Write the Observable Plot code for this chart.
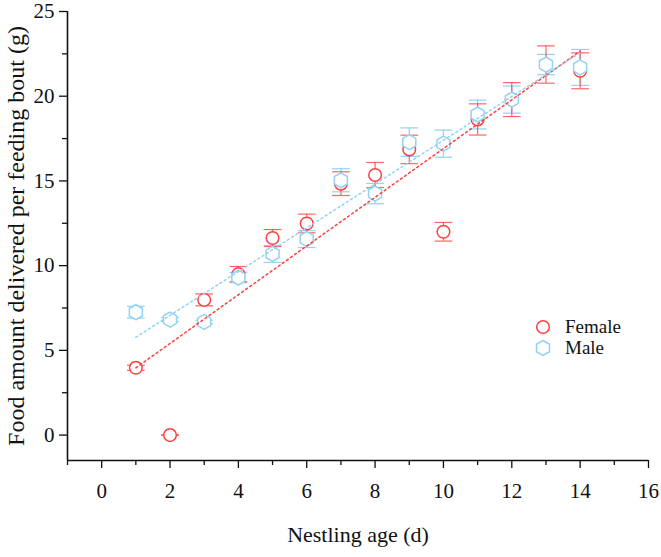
<!DOCTYPE html>
<html>
<head>
<meta charset="utf-8">
<script src="https://cdn.jsdelivr.net/npm/d3@7"></script>
<script src="https://cdn.jsdelivr.net/npm/@observablehq/plot@0.6"></script>
<style>
  html, body { margin: 0; padding: 0; background: #fff; }
  #wrap { position: relative; width: 661px; height: 557px; }
  #wrap svg text { font-family: "Liberation Serif", "Times New Roman", serif !important; }
  #legend { position: absolute; left: 534px; top: 316px; font-family: "Liberation Serif", serif; font-size: 19px; color: #111; }
  #legend .row { display: flex; align-items: center; height: 21px; }
  #legend svg { width: 18px; height: 18px; margin-right: 13px; }
</style>
</head>
<body>
<div id="wrap"><div id="legend"></div></div>
<script>
// Data
const days = [1, 2, 3, 4, 5, 6, 7, 8, 9, 10, 11, 12, 13, 14];
const femaleMean = [3.97, 0, 7.98, 9.5, 11.63, 12.49, 14.84, 15.35, 16.86, 12.0, 18.63, 19.8, 21.87, 21.5];
const femaleErr  = [0.15, 0, 0.35, 0.45, 0.5, 0.55, 0.7, 0.74, 0.84, 0.55, 0.92, 1.0, 1.1, 1.06];
const maleMean   = [7.25, 6.82, 6.68, 9.3, 10.69, 11.57, 15.04, 14.25, 17.29, 17.2, 18.92, 19.8, 21.87, 21.7];
const maleErr    = [0.35, 0.12, 0.1, 0.3, 0.5, 0.5, 0.68, 0.6, 0.84, 0.8, 0.85, 0.8, 0.6, 1.06];

const xMajor = [0, 2, 4, 6, 8, 10, 12, 14, 16];
const xMinor = [-1, 1, 3, 5, 7, 9, 11, 13, 15];
const yMajor = [0, 5, 10, 15, 20, 25];
const yMinor = [2.5, 7.5, 12.5, 17.5, 22.5];

const seriesNames = ["Female", "Male"];
const femaleColor = "#ff3f3f";
const maleColor = "#92d2f4";

const female = days.map((d, i) => ({day: d, mean: femaleMean[i], lo: femaleMean[i] - femaleErr[i], hi: femaleMean[i] + femaleErr[i]}));
const male = days.map((d, i) => ({day: d, mean: maleMean[i], lo: maleMean[i] - maleErr[i], hi: maleMean[i] + maleErr[i]}));

const cap = {
  draw(context, size) {
    const w = Math.sqrt(size);
    context.moveTo(-w, 0);
    context.lineTo(w, 0);
  }
};

const font = "Liberation Serif";

const chart = Plot.plot({
  width: 661,
  height: 557,
  marginLeft: 67,
  marginRight: 13,
  marginTop: 11,
  marginBottom: 97,
  x: {domain: [-1, 16]},
  y: {domain: [-1.5, 25]},
  style: {fontFamily: font, background: "white", color: "#111", overflow: "visible"},
  marks: [
    Plot.axisY({ticks: yMajor, tickSize: 8, tickPadding: 5, fontSize: 21, fontFamily: font, label: null, strokeWidth: 1.3}),
    Plot.axisY({ticks: yMinor, tickSize: 5, tickFormat: () => "", label: null, strokeWidth: 1.3}),
    Plot.axisX({ticks: xMajor, tickSize: 8, tickPadding: 15, fontSize: 21, fontFamily: font, label: null, strokeWidth: 1.3}),
    Plot.axisX({ticks: xMinor, tickSize: 5, tickFormat: () => "", label: null, strokeWidth: 1.3}),
    Plot.ruleX([-1], {stroke: "#111", strokeWidth: 1.6}),
    Plot.ruleY([-1.5], {stroke: "#111", strokeWidth: 1.6}),
    // error bars
    Plot.ruleX(male, {x: "day", y1: "lo", y2: "hi", stroke: maleColor, strokeWidth: 1.2}),
    Plot.dot(male, {x: "day", y: "lo", symbol: cap, r: 5, stroke: maleColor, strokeWidth: 1.2}),
    Plot.dot(male, {x: "day", y: "hi", symbol: cap, r: 5, stroke: maleColor, strokeWidth: 1.2}),
    Plot.ruleX(female, {x: "day", y1: "lo", y2: "hi", stroke: femaleColor, strokeWidth: 1.2, strokeOpacity: 0.8}),
    Plot.dot(female, {x: "day", y: "lo", symbol: cap, r: 5, stroke: femaleColor, strokeWidth: 1.2, strokeOpacity: 0.8}),
    Plot.dot(female, {x: "day", y: "hi", symbol: cap, r: 5, stroke: femaleColor, strokeWidth: 1.2, strokeOpacity: 0.8}),
    // points
    Plot.dot(female, {x: "day", y: "mean", symbol: "circle", r: 6.3, fill: "white", stroke: femaleColor, strokeWidth: 1.5}),
    Plot.dot(male, {x: "day", y: "mean", symbol: "hexagon", r: 6.5, fill: "white", stroke: maleColor, strokeWidth: 1.5}),
    // linear fits
    Plot.linearRegressionY(female, {x: "day", y: "mean", ci: 0, stroke: femaleColor, strokeWidth: 1.5, strokeDasharray: "2,3"}),
    Plot.linearRegressionY(male, {x: "day", y: "mean", ci: 0, stroke: maleColor, strokeWidth: 1.5, strokeDasharray: "2,3"}),
    // axis titles
    Plot.text(["Food amount delivered per feeding bout (g)"], {frameAnchor: "left", textAnchor: "middle", rotate: -90, dx: -51, fontSize: 24, fontFamily: font, fill: "#111"}),
    Plot.text(["Nestling age (d)"], {frameAnchor: "bottom", dy: 81, fontSize: 22, fontFamily: font, fill: "#111"})
  ]
});

document.getElementById("wrap").prepend(chart);

// legend
const legend = document.getElementById("legend");
const hr = 6.5, hy = hr * 2 / Math.sqrt(3);
const hexPath = `M0,${-hy}L${hr},${-hy / 2}L${hr},${hy / 2}L0,${hy}L${-hr},${hy / 2}L${-hr},${-hy / 2}Z`;
const symPaths = [
  `<circle cx="9" cy="9" r="6.3" fill="white" stroke="${femaleColor}" stroke-width="1.5"/>`,
  `<path d="${hexPath}" transform="translate(9,9)" fill="white" stroke="${maleColor}" stroke-width="1.5"/>`
];
seriesNames.forEach((name, i) => {
  const row = document.createElement("div");
  row.className = "row";
  row.innerHTML = `<svg viewBox="0 0 18 18">${symPaths[i]}</svg><span>${name}</span>`;
  legend.appendChild(row);
});
</script>
</body>
</html>
